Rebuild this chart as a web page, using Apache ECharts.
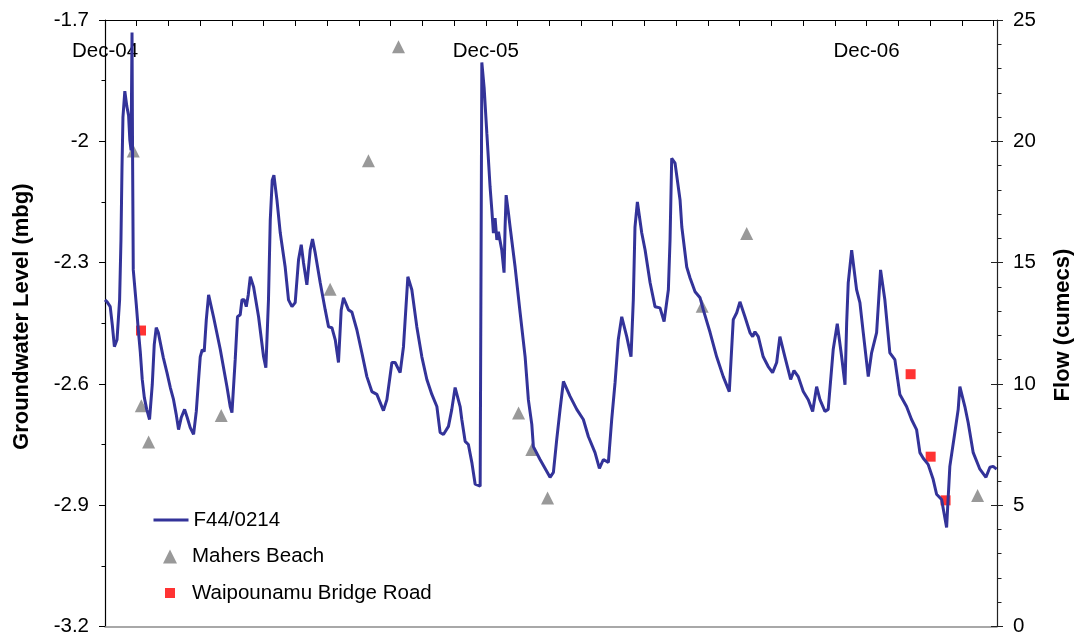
<!DOCTYPE html>
<html>
<head>
<meta charset="utf-8">
<script src="https://cdn.jsdelivr.net/npm/echarts@6/dist/echarts.min.js"></script>
<style>
html,body{margin:0;padding:0;background:#fff;}
#chart{width:1078px;height:637px;}
</style>
</head>
<body>
<div id="chart"></div>
<script>
// Time is expressed as days since 1 Dec 2004
const yearLabels = ['Dec-04', 'Dec-05', 'Dec-06'];
const MONTH = 365 / 12;
const X_MAX = 855;

// F44/0214 groundwater level (mbg)
const f44Day = [
  0,2,5,7,9,11.5,14,15.3,16.3,17.2,
  19,20.9,22.6,23.8,25,25.9,26.4,27.1,30,31.9,
  33.8,35.7,37.7,40,42.7,45.3,47.2,49.1,51.1,53,
  55.9,59.4,62.6,65.7,68.3,70.5,73.1,76.3,78.8,81.7,
  84.9,87.5,89.7,91.3,93.2,95.1,97.1,99.3,104,110.5,
  116.9,120,121.7,124.8,127,129.6,131.3,133.5,135.4,137.3,
  139.3,142.4,147.2,152,154.2,156.7,158.4,160.3,161.9,164.8,
  168,172.7,175.9,179.2,182.3,185.5,188.1,190.3,193.5,196.7,
  198.9,201.5,206.3,211.1,214.3,217.5,220.7,223.8,226.4,228.6,
  233.4,236.6,241.4,246.2,251,255.8,260.6,266.9,270.2,275,
  278.1,282.9,286.1,290.3,294.1,298.9,303.7,308.5,313.3,318.1,
  321.2,324.4,329.2,332.4,335.6,340.4,342,345.2,348.3,351.6,
  354.8,359.6,361.2,363.4,366,369.1,370.8,372.3,373.9,375.6,
  377.1,380.3,382.5,383.5,384.5,386.7,388.3,393.1,397.9,402.7,
  405.8,409.1,410.6,417,426.6,429.8,433,436.2,439.4,445.8,
  452.2,458.5,463.3,469.7,473.9,477.7,482.5,485.7,488.9,492,
  495.3,500.1,504.2,506.4,508,510.3,514.5,517.7,522.5,527.2,
  532,535.9,540,541.6,543.2,546.4,551.2,552.9,557.6,560.8,
  565.6,570.4,573.5,580,586.3,592.6,598.4,602.2,605.5,608.6,
  613.4,618.2,620.8,623,626.2,630.9,635.7,639.9,643.8,646.9,
  651.7,657.2,660.4,664.5,669.3,674.1,678.3,682.1,685.3,690.1,
  693.2,698,701.9,706.1,709.3,710.9,712.4,715.7,720.4,723.6,
  726.8,731.6,734.8,739.6,743.4,747.5,752.3,757.1,761.9,768.3,
  773.1,777.9,781.1,784.3,789,793.8,797.1,801.9,806.7,809.8,
  814.6,817.8,819.4,824.2,827.4,832.2,838.6,844.4,848.2,851.3,
  854.6
];
const f44Level = [
  -2.392,-2.397,-2.409,-2.454,-2.508,-2.491,-2.392,-2.244,-2.064,-1.941,
  -1.876,-1.913,-1.936,-1.997,-2.022,-1.731,-2.022,-2.318,-2.404,-2.466,
  -2.520,-2.589,-2.634,-2.663,-2.688,-2.602,-2.503,-2.461,-2.473,-2.498,
  -2.535,-2.572,-2.609,-2.639,-2.676,-2.713,-2.683,-2.663,-2.683,-2.708,
  -2.725,-2.668,-2.589,-2.533,-2.515,-2.520,-2.441,-2.380,-2.434,-2.515,
  -2.607,-2.656,-2.671,-2.540,-2.434,-2.429,-2.392,-2.392,-2.409,-2.380,
  -2.335,-2.360,-2.434,-2.533,-2.560,-2.392,-2.195,-2.096,-2.084,-2.145,
  -2.227,-2.311,-2.392,-2.409,-2.399,-2.293,-2.256,-2.301,-2.355,-2.269,
  -2.242,-2.276,-2.350,-2.417,-2.459,-2.461,-2.491,-2.547,-2.417,-2.387,
  -2.417,-2.422,-2.466,-2.523,-2.582,-2.619,-2.626,-2.666,-2.639,-2.547,
  -2.547,-2.572,-2.508,-2.335,-2.367,-2.459,-2.533,-2.589,-2.626,-2.656,
  -2.720,-2.725,-2.705,-2.663,-2.609,-2.656,-2.688,-2.742,-2.750,-2.794,
  -2.848,-2.853,-1.805,-1.867,-1.980,-2.113,-2.170,-2.227,-2.190,-2.244,
  -2.224,-2.269,-2.325,-2.212,-2.133,-2.177,-2.212,-2.311,-2.424,-2.533,
  -2.639,-2.700,-2.755,-2.787,-2.831,-2.819,-2.737,-2.663,-2.594,-2.631,
  -2.663,-2.688,-2.730,-2.770,-2.809,-2.787,-2.794,-2.688,-2.597,-2.490,
  -2.434,-2.483,-2.533,-2.392,-2.212,-2.150,-2.227,-2.269,-2.350,-2.409,
  -2.412,-2.446,-2.367,-2.244,-2.042,-2.054,-2.145,-2.212,-2.311,-2.338,
  -2.372,-2.387,-2.417,-2.473,-2.533,-2.582,-2.619,-2.441,-2.424,-2.397,
  -2.434,-2.473,-2.483,-2.471,-2.483,-2.533,-2.557,-2.572,-2.547,-2.483,
  -2.533,-2.589,-2.567,-2.582,-2.619,-2.639,-2.668,-2.607,-2.639,-2.668,
  -2.663,-2.515,-2.451,-2.533,-2.602,-2.449,-2.350,-2.269,-2.367,-2.399,
  -2.473,-2.582,-2.523,-2.473,-2.318,-2.392,-2.523,-2.540,-2.626,-2.656,
  -2.688,-2.713,-2.770,-2.784,-2.799,-2.836,-2.873,-2.886,-2.955,-2.804,
  -2.720,-2.663,-2.607,-2.656,-2.696,-2.770,-2.811,-2.831,-2.806,-2.804,
  -2.811
];

// Mahers Beach flow (cumecs)
const mahersDay  = [27.1, 34.8, 41.8, 111.4, 215.8, 252.5, 281.3, 396.4, 409.1, 424.2, 572.4, 615.1, 836.4];
const mahersFlow = [19.6, 9.1, 7.6, 8.7, 13.9, 19.2, 23.9, 8.8, 7.3, 5.3, 13.2, 16.2, 5.4];

// Waipounamu Bridge Road flow (cumecs)
const waipDay  = [34.5, 772.2, 791.4, 805.7];
const waipFlow = [12.2, 10.4, 7.0, 5.2];

const FONT = "'Liberation Sans', Arial, sans-serif";
const zip = (a, b) => a.map((v, i) => [v, b[i]]);
const legendText = {fontSize: 20.5, color: '#000', fontFamily: FONT, lineHeight: 22};

const chart = echarts.init(document.getElementById('chart'), null, {renderer: 'canvas'});
chart.setOption({
  backgroundColor: '#fff',
  animation: false,
  textStyle: {fontFamily: FONT},
  grid: {left: 105, right: 81, top: 20, bottom: 9, containLabel: false},
  xAxis: [
    {
      type: 'value', position: 'top', min: 0, max: X_MAX, interval: MONTH,
      axisLine: {show: true, onZero: false, lineStyle: {color: '#000', width: 1.2}},
      axisTick: {show: true, inside: true, length: 6, lineStyle: {color: '#000', width: 1}},
      axisLabel: {
        show: true, inside: true, margin: 21, fontSize: 20.5, color: '#000', fontFamily: FONT,
        showMinLabel: true, showMaxLabel: false,
        formatter: function (v) {
          const idx = Math.round(v / MONTH);
          if (Math.abs(v - idx * MONTH) > 0.5) return '';
          if (idx % 12 !== 0) return '';
          return yearLabels[idx / 12] || '';
        }
      },
      splitLine: {show: false}
    },
    {
      type: 'value', position: 'bottom', min: 0, max: X_MAX,
      axisLine: {show: true, onZero: false, lineStyle: {color: '#8c8c8c', width: 1.5}},
      axisTick: {show: false}, axisLabel: {show: false}, splitLine: {show: false}
    }
  ],
  yAxis: [
    {
      type: 'value', position: 'left', min: -3.2, max: -1.7, interval: 0.3,
      axisLine: {show: true, onZero: false, lineStyle: {color: '#000', width: 1.2}},
      axisTick: {show: true, inside: false, length: 6, lineStyle: {color: '#000'}},
      minorTick: {show: true, splitNumber: 2, length: 3.5, lineStyle: {color: '#000'}},
      axisLabel: {
        margin: 16, fontSize: 20.5, color: '#000', fontFamily: FONT,
        formatter: v => String(parseFloat(v.toFixed(2)))
      },
      splitLine: {show: false}
    },
    {
      type: 'value', position: 'right', min: 0, max: 25, interval: 5,
      axisLine: {show: true, onZero: false, lineStyle: {color: '#222', width: 1.2}},
      axisTick: {show: true, inside: false, length: 6, lineStyle: {color: '#222'}},
      minorTick: {show: true, splitNumber: 5, length: 4.5, lineStyle: {color: '#222'}},
      axisLabel: {margin: 16, fontSize: 20.5, color: '#000', fontFamily: FONT},
      splitLine: {show: false}
    },
    {
      type: 'value', position: 'right', min: 0, max: 25, interval: 5,
      axisLine: {show: false, onZero: false},
      axisTick: {show: true, inside: true, length: 6, lineStyle: {color: '#222'}},
      axisLabel: {show: false}, splitLine: {show: false}
    }
  ],
  legend: [
    {
      data: [{name: 'F44/0214', itemStyle: {opacity: 0}, lineStyle: {width: 3, color: '#333399'}}],
      orient: 'vertical', left: 152, top: 509, padding: 0,
      itemWidth: 35, itemHeight: 14, itemGap: 0, textStyle: legendText
    },
    {
      data: [{name: 'Mahers Beach', icon: 'triangle'}], orient: 'vertical', left: 163, top: 545.5, padding: 0,
      itemWidth: 14, itemHeight: 14, itemGap: 0, symbolKeepAspect: true,
      textStyle: Object.assign({padding: [0, 0, 0, 10]}, legendText)
    },
    {
      data: [{name: 'Waipounamu Bridge Road', icon: 'rect'}], orient: 'vertical', left: 165, top: 582, padding: 0,
      itemWidth: 10, itemHeight: 10, itemGap: 0, symbolKeepAspect: true,
      textStyle: Object.assign({padding: [0, 0, 0, 12]}, legendText)
    }
  ],
  graphic: [
    {
      type: 'text', x: 21.7, y: 316.7, rotation: Math.PI / 2,
      style: {text: 'Groundwater Level (mbg)', font: "bold 22px 'Liberation Sans', Arial, sans-serif",
              fill: '#000', textAlign: 'center', textVerticalAlign: 'middle'}
    },
    {
      type: 'text', x: 1062.5, y: 325, rotation: Math.PI / 2,
      style: {text: 'Flow (cumecs)', font: "bold 22px 'Liberation Sans', Arial, sans-serif",
              fill: '#000', textAlign: 'center', textVerticalAlign: 'middle'}
    }
  ],
  series: [
    {
      name: 'F44/0214', type: 'line', xAxisIndex: 0, yAxisIndex: 0,
      data: zip(f44Day, f44Level), symbol: 'none', showSymbol: false, smooth: false,
      lineStyle: {color: '#333399', width: 3}, itemStyle: {color: '#333399'}
    },
    {
      name: 'Mahers Beach', type: 'scatter', xAxisIndex: 0, yAxisIndex: 1,
      data: zip(mahersDay, mahersFlow), symbol: 'triangle', symbolSize: 13,
      itemStyle: {color: '#808080'}
    },
    {
      name: 'Waipounamu Bridge Road', type: 'scatter', xAxisIndex: 0, yAxisIndex: 1,
      data: zip(waipDay, waipFlow), symbol: 'rect', symbolSize: 10,
      itemStyle: {color: '#ff0000'}
    }
  ]
});
</script>
</body>
</html>
